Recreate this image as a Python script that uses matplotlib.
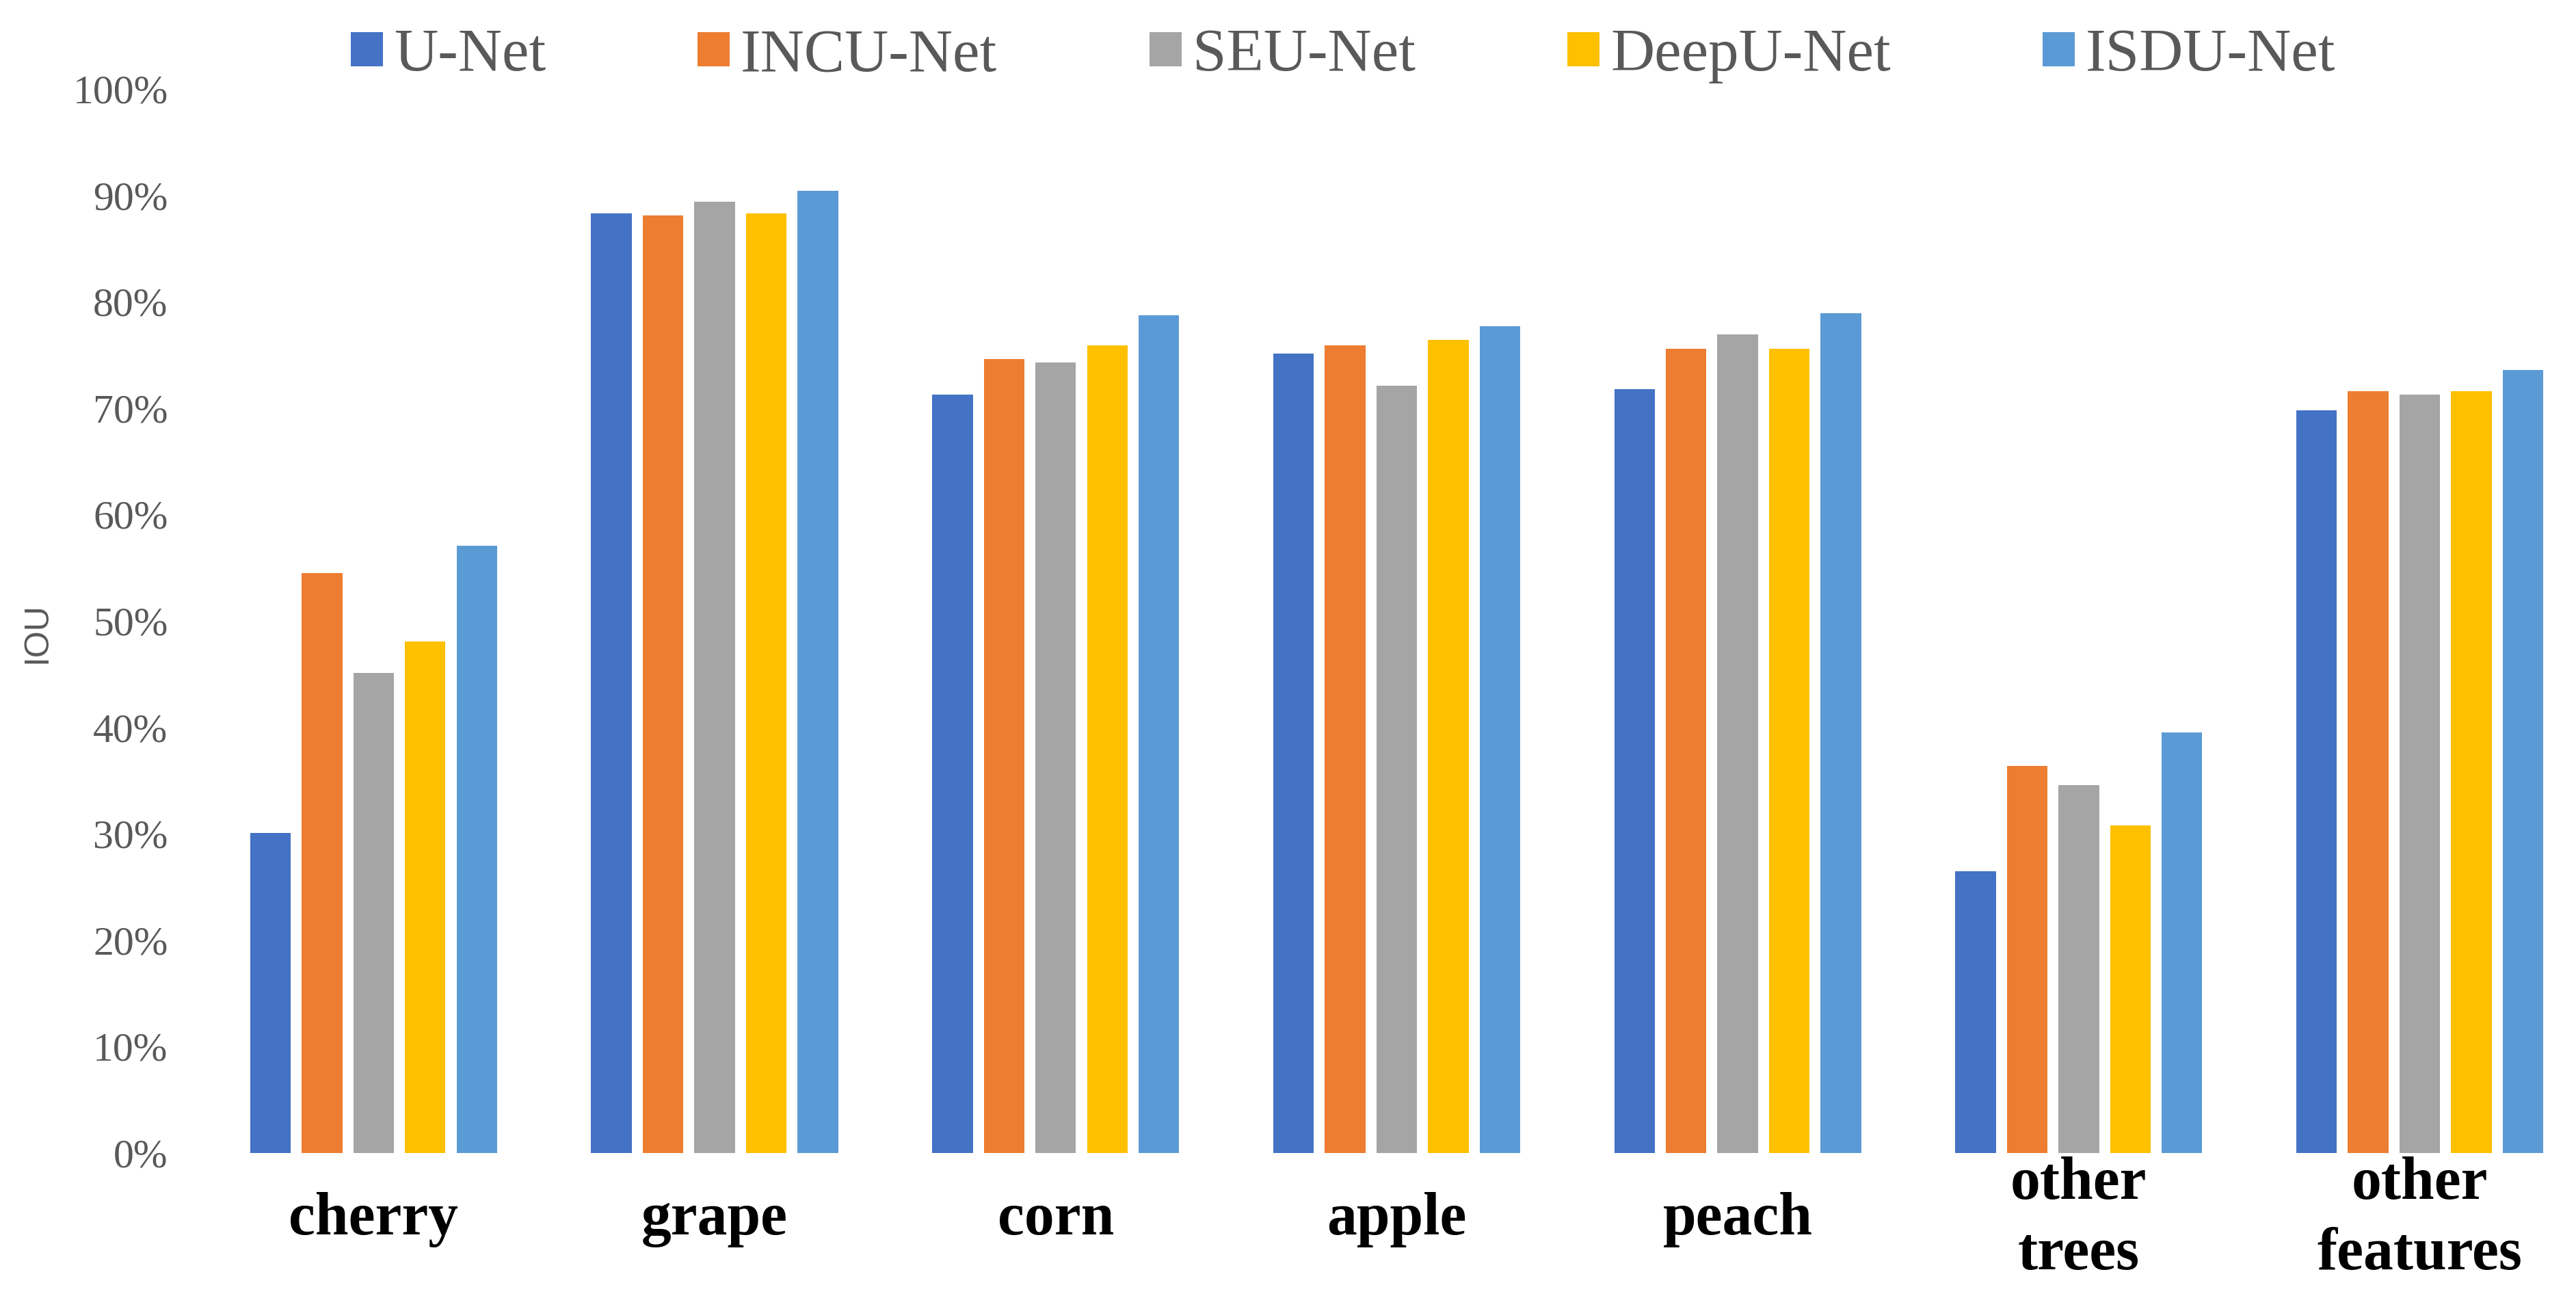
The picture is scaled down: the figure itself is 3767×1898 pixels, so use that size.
import numpy as np
import matplotlib
matplotlib.use("Agg")
import matplotlib.pyplot as plt
from matplotlib.ticker import PercentFormatter

# categories and series
categories = ["cherry", "grape", "corn", "apple", "peach", "other\ntrees", "other\nfeatures"]
models = ["U-Net", "INCU-Net", "SEU-Net", "DeepU-Net", "ISDU-Net"]
colors = ["#4472C4", "#ED7D31", "#A5A5A5", "#FFC000", "#5B9BD5"]

unet = [0.301, 0.883, 0.713, 0.751, 0.718, 0.265, 0.698]
incu = [0.545, 0.881, 0.746, 0.759, 0.756, 0.364, 0.716]
seu = [0.451, 0.894, 0.743, 0.721, 0.769, 0.346, 0.713]
deepu = [0.481, 0.883, 0.759, 0.764, 0.756, 0.308, 0.716]
isdu = [0.571, 0.904, 0.787, 0.777, 0.789, 0.395, 0.736]
series = [unet, incu, seu, deepu, isdu]

W, H = 3767, 1898
fig = plt.figure(figsize=(W / 100, H / 100), dpi=100)

# plot area placed in pixels
left_px, right_px = 297, 3767
top_px, bottom_px = 130, 1686
ax = fig.add_axes([left_px / W, 1 - bottom_px / H,
                   (right_px - left_px) / W, (bottom_px - top_px) / H])

x = np.arange(len(categories))
pitch = 0.1513
width = 0.119
for i, (name, vals, c) in enumerate(zip(models, series, colors)):
    ax.bar(x + (i - 2) * pitch, vals, width, color=c, label=name)

group_px = 498.7
ax.set_xlim(-0.5, -0.5 + (right_px - left_px) / group_px)
ax.set_ylim(0, 1.0)
ax.set_yticks(np.arange(0, 1.01, 0.1))
ax.yaxis.set_major_formatter(PercentFormatter(1.0, decimals=0))

for s in ax.spines.values():
    s.set_visible(False)

ax.tick_params(axis="y", length=0, pad=37, labelsize=43, labelcolor="#595959")
for lab in ax.get_yticklabels():
    lab.set_family("Liberation Serif")

ax.set_xticks(x)
ax.set_xticklabels(categories, fontsize=63, fontweight="bold",
                   family="Liberation Serif", color="black", linespacing=1.35)
ax.tick_params(axis="x", length=0, pad=70)
for lab in ax.get_xticklabels():
    lab.set_va("center")

# y axis title
ax.set_ylabel("IOU", fontsize=36, color="#595959", family="Liberation Sans")
ax.yaxis.set_label_coords(-(left_px - 77) / (right_px - left_px), 0.489)

leg = fig.legend(loc="center", bbox_to_anchor=(0.5214, 1 - 82 / H), ncol=5,
                 frameon=False, prop={"family": "Liberation Serif", "size": 64},
                 labelcolor="#595959", handlelength=0.53, handleheight=0.49,
                 handletextpad=0.18, columnspacing=2.5)

fig.savefig("out.png", dpi=100, facecolor="white")
